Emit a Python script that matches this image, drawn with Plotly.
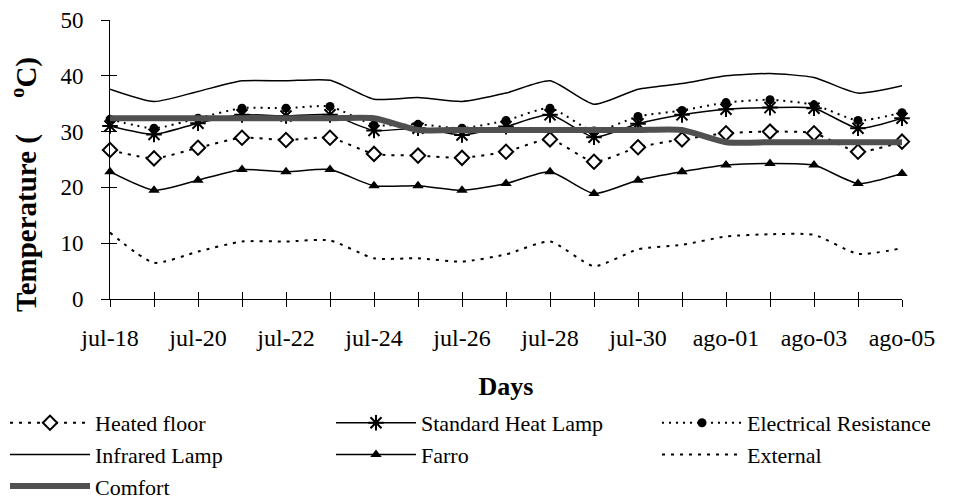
import plotly.graph_objects as go

days = ["jul-18", "jul-19", "jul-20", "jul-21", "jul-22", "jul-23", "jul-24", "jul-25",
        "jul-26", "jul-27", "jul-28", "jul-29", "jul-30", "jul-31", "ago-01", "ago-02",
        "ago-03", "ago-04", "ago-05"]

heated_floor = [26.7, 25.2, 27.1, 28.9, 28.5, 28.9, 26.0, 25.7, 25.3, 26.4, 28.6, 24.6,
                27.2, 28.6, 29.7, 30.0, 29.7, 26.4, 28.2]
standard_heat_lamp = [31.0, 29.5, 31.5, 33.0, 32.8, 33.0, 30.2, 30.6, 29.4, 30.9, 33.0, 29.0,
                      31.4, 33.0, 34.0, 34.3, 34.2, 30.6, 32.4]
electrical_resistance = [32.2, 30.6, 32.4, 34.2, 34.2, 34.5, 31.2, 31.3, 30.6, 32.0, 34.2, 30.1,
                         32.7, 33.8, 35.2, 35.7, 34.8, 32.0, 33.4]
infrared_lamp = [37.6, 35.4, 37.2, 39.1, 39.1, 39.2, 35.8, 36.1, 35.4, 36.9, 39.1, 34.9,
                 37.6, 38.6, 40.0, 40.4, 39.7, 36.9, 38.2]
farro = [22.8, 19.5, 21.3, 23.2, 22.8, 23.2, 20.3, 20.3, 19.5, 20.7, 22.8, 18.9,
         21.3, 22.8, 24.0, 24.3, 24.0, 20.7, 22.5]
external = [11.9, 6.5, 8.5, 10.3, 10.3, 10.5, 7.3, 7.3, 6.7, 8.0, 10.3, 5.9,
            8.9, 9.7, 11.2, 11.6, 11.5, 8.1, 9.1]
comfort = [32.4, 32.4, 32.4, 32.4, 32.4, 32.4, 32.4, 30.3, 30.3, 30.3, 30.3, 30.3,
           30.3, 30.3, 28.1, 28.1, 28.1, 28.1, 28.1]

idx = list(range(len(days)))
tick_text = [d if i % 2 == 0 else " " for i, d in enumerate(days)]

FONT = "Liberation Serif"

fig = go.Figure()

def add(name, y, dash, width, legend, color="black", marker=None, mode="lines+markers"):
    fig.add_trace(go.Scatter(
        x=idx, y=y, name=name, mode=mode, legend=legend,
        line=dict(color=color, width=width, dash=dash, shape="spline", smoothing=0.6),
        marker=marker if marker else dict(),
        cliponaxis=False,
    ))

add("Heated floor", heated_floor, "3px,6px", 2, "legend",
    marker=dict(symbol="diamond", size=11, color="white", line=dict(color="black", width=2)))
add("Standard Heat Lamp", standard_heat_lamp, "solid", 1.5, "legend2",
    marker=dict(symbol="asterisk-open", size=13, color="black", line=dict(color="black", width=2)))
add("Electrical Resistance", electrical_resistance, "2px,5px", 2, "legend3",
    marker=dict(symbol="circle", size=9, color="black"))
add("Infrared Lamp", infrared_lamp, "solid", 1.5, "legend", mode="lines")
add("Farro", farro, "solid", 1.5, "legend2",
    marker=dict(symbol="triangle-up", size=10, color="black"))
add("External", external, "3px,6px", 2, "legend3", mode="lines")
add("Comfort", comfort, "solid", 6, "legend", color="#505050", mode="lines")

# helper trace for overlay axes (crossing tick marks)
fig.add_trace(go.Scatter(x=[None], y=[None], xaxis="x2", yaxis="y2",
                         showlegend=False, hoverinfo="skip"))

LEG_Y = 1 - 402 / 500

def leg(xpx):
    return dict(
        orientation="v", xref="container", yref="container",
        x=xpx / 966, xanchor="left", y=LEG_Y, yanchor="top",
        itemwidth=80, font=dict(family=FONT, size=22, color="black"),
        bgcolor="rgba(0,0,0,0)", borderwidth=0, itemclick=False,
    )

fig.update_layout(
    width=966, height=500,
    margin=dict(l=110, r=64, t=20, b=201, autoexpand=False),
    plot_bgcolor="white", paper_bgcolor="white",
    font=dict(family=FONT, size=22, color="black"),
    showlegend=True,
    legend=leg(5), legend2=leg(331), legend3=leg(657),
    xaxis=dict(
        range=[0, 18], tickmode="array", tickvals=idx, ticktext=tick_text,
        showgrid=False, zeroline=False, showline=True, linecolor="black", linewidth=1,
        ticks="outside", ticklen=7, tickcolor="black", tickwidth=1,
        ticklabelstandoff=10,
        tickfont=dict(family=FONT, size=24),
        title=dict(text="<b>Days</b>", font=dict(family=FONT, size=26), standoff=27),
    ),
    yaxis=dict(
        range=[0, 50], tickmode="linear", tick0=0, dtick=10,
        showgrid=False, zeroline=False, showline=True, linecolor="black", linewidth=1,
        ticks="outside", ticklen=8, tickcolor="black", tickwidth=1,
        ticklabelstandoff=13,
        tickfont=dict(family=FONT, size=23),
    ),
    xaxis2=dict(range=[0, 18], overlaying="x", tickmode="array", tickvals=idx,
                showticklabels=False, showgrid=False, zeroline=False, showline=False,
                ticks="inside", ticklen=7, tickcolor="black", tickwidth=1),
    yaxis2=dict(range=[0, 50], overlaying="y", tickmode="linear", tick0=0, dtick=10,
                showticklabels=False, showgrid=False, zeroline=False, showline=False,
                ticks="inside", ticklen=7, tickcolor="black", tickwidth=1),
    annotations=[dict(
        text="<b>Temperature (\u00a0\u00a0\u00a0\u00a0\u00a0<sup>o</sup>C)</b>",
        textangle=-90, xref="paper", yref="paper",
        x=(25 - 110) / 792, y=(299 - 185) / 279, xanchor="center", yanchor="middle",
        showarrow=False, font=dict(family=FONT, size=29, color="black"),
    )],
)

fig.write_html("out.html", config={"displayModeBar": False},
               post_script="document.body.style.margin='0';document.body.style.overflow='hidden';")
